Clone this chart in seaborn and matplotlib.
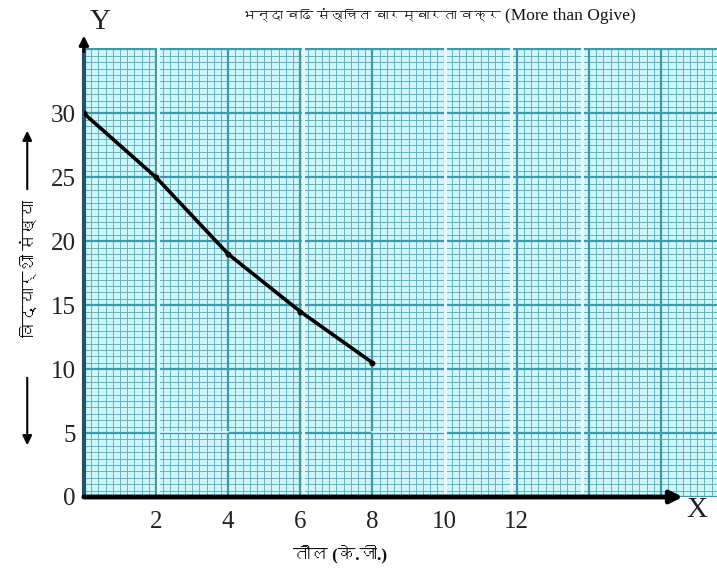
import numpy as np
import pandas as pd
import seaborn as sns
import matplotlib
matplotlib.use("Agg")
import matplotlib.pyplot as plt
from matplotlib import font_manager

# Data: weight (kg) and "more than" cumulative frequency
weights = [0, 2, 4, 6, 8]
cum_freq = [30, 25, 19, 14.5, 10.5]
x_tick_labels = [2, 4, 6, 8, 10, 12]
y_tick_labels = [0, 5, 10, 15, 20, 25, 30]

title_deva = "भन्दा बढि संञ्चित बारम्बारता वक्र"
title_eng = "(More than Ogive)"
xlabel_text = "तौल (के.जी.)"
ylabel_text = "विद्यार्थी संख्या"


def family_with(char):
    """Return the name of an installed font family that has the given glyph."""
    try:
        from fontTools.ttLib import TTFont
    except Exception:
        return None
    cp = ord(char)
    seen = set()
    for fe in font_manager.fontManager.ttflist:
        if fe.fname in seen:
            continue
        seen.add(fe.fname)
        try:
            f = TTFont(fe.fname, fontNumber=0, lazy=True)
            cmap = f.getBestCmap()
            if cmap and cp in cmap:
                return fe.name
        except Exception:
            continue
    return None


sns.set_style("white")
deva = family_with("भ")
serif_fams = ["Liberation Serif"] + ([deva] if deva else []) + ["DejaVu Sans"]
plt.rcParams["font.family"] = serif_fams

df = pd.DataFrame({"weight": weights, "students": cum_freq})

fig = plt.figure(figsize=(7.17, 5.71), dpi=100)
ax = fig.add_axes([0.117, 0.1296, 0.883, 0.786])

x_max, y_max = 17.55, 35.1
ax.set_xlim(0, x_max)
ax.set_ylim(0, y_max)
ax.set_facecolor("#cff6fa")

# graph-paper grid
minor_col = "#62b3c1"
major_col = "#3f98ab"
for xv in np.arange(0, x_max, 0.2):
    ax.axvline(xv, color=minor_col, lw=0.7, zorder=0.5)
for yv in np.arange(0, y_max, 0.5):
    ax.axhline(yv, color=minor_col, lw=0.7, zorder=0.5)
for xv in np.arange(0, x_max, 2):
    ax.axvline(xv, color=major_col, lw=1.6, zorder=0.6)
for yv in np.arange(0, y_max, 5):
    ax.axhline(yv, color=major_col, lw=1.6, zorder=0.6)
# joins between sheets of graph paper
for xv in [2.06, 6.08, 10.0, 11.85, 13.8]:
    ax.axvline(xv, color="#e8fbfd", lw=2.2, zorder=0.7)
ax.plot([2.1, 4.0], [5.05, 5.05], color="#e8fbfd", lw=1.2, zorder=0.7)
ax.plot([8.0, 10.0], [5.05, 5.05], color="#e8fbfd", lw=1.2, zorder=0.7)

# ogive
sns.lineplot(data=df, x="weight", y="students", color="black", lw=2.6,
             marker="o", markersize=3.5, markeredgecolor="black", ax=ax,
             zorder=5)

for s in ax.spines.values():
    s.set_visible(False)

# axes with arrows
ax.plot([0, 0], [0, y_max], color="#1d5566", lw=3, zorder=4, clip_on=False)
ax.annotate("", xy=(0, 36.3), xytext=(0, y_max - 0.5),
            arrowprops=dict(arrowstyle="-|>", color="black", lw=2,
                            mutation_scale=14),
            annotation_clip=False, zorder=6)
ax.annotate("", xy=(16.6, 0), xytext=(0, 0),
            arrowprops=dict(arrowstyle="-|>", color="black", lw=3.5,
                            mutation_scale=18, shrinkA=0, shrinkB=0),
            annotation_clip=False, zorder=6)

ax.set_xticks(x_tick_labels)
ax.set_xticklabels([str(v) for v in x_tick_labels])
ax.set_yticks(y_tick_labels)
ax.set_yticklabels([str(v) for v in y_tick_labels])
ax.tick_params(axis="both", length=0, labelsize=18, colors="#222222")
ax.tick_params(axis="x", pad=10)
ax.tick_params(axis="y", pad=6)
ax.set_xlabel("")
ax.set_ylabel("")

fig.text(0.14, 0.962, "Y", fontsize=21, ha="center", va="center",
         color="#222222")
fig.text(0.972, 0.107, "X", fontsize=21, ha="center", va="center",
         color="#222222")

fig.text(0.699, 0.972, title_deva, fontsize=9.8, ha="right", va="center",
         color="#111111")
fig.text(0.704, 0.972, title_eng, fontsize=12.5, ha="left", va="center",
         color="#111111")
fig.text(0.474, 0.03, xlabel_text, fontsize=12.5, ha="center", va="center",
         fontweight="bold", color="#111111")
fig.text(0.042, 0.53, ylabel_text, fontsize=12, rotation=90, ha="center",
         va="center", color="#111111")

# arrows beside the y label
arrow_kw = dict(arrowstyle="-|>", color="black", lw=1.5, mutation_scale=14)
fig.add_artist(plt.Annotation(
    "", xy=(0.038, 1 - 128 / 571), xytext=(0.038, 1 - 192 / 571),
    xycoords="figure fraction", textcoords="figure fraction",
    arrowprops=arrow_kw))
fig.add_artist(plt.Annotation(
    "", xy=(0.038, 1 - 448 / 571), xytext=(0.038, 1 - 375 / 571),
    xycoords="figure fraction", textcoords="figure fraction",
    arrowprops=arrow_kw))

fig.savefig("out.png", dpi=100)
